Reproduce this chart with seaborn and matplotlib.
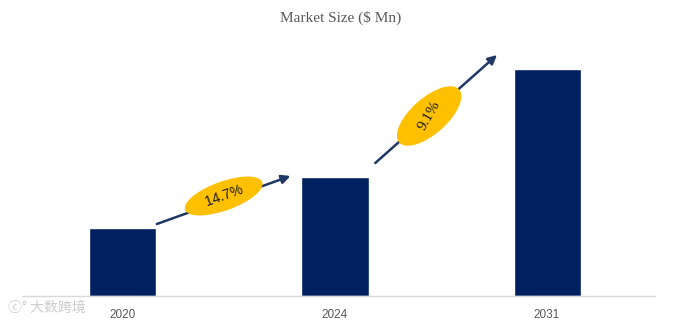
import matplotlib
matplotlib.use("Agg")
import matplotlib.pyplot as plt
import seaborn as sns
import numpy as np
from matplotlib.patches import Ellipse
from matplotlib.transforms import IdentityTransform

years = ["2020", "2024", "2031"]
market_size = [68, 119, 227]
cagr_labels = ["14.7%", "9.1%"]

sns.set_theme(style="white")
plt.rcParams['font.family'] = ['DejaVu Sans', 'Noto Sans CJK SC']

W, H = 681, 322
fig = plt.figure(figsize=(W / 100, H / 100), dpi=100)
ax = fig.add_axes([22 / W, 26 / H, (655 - 22) / W, 256 / H])

sns.barplot(x=years, y=market_size, color="#002060", saturation=1,
            width=0.316, ax=ax)
ax.set_xlim(-0.476, 2.509)
ax.set_ylim(0, 256)
ax.set_xlabel("")
ax.set_ylabel("")
ax.set_yticks([])
for s in ["left", "right", "top"]:
    ax.spines[s].set_visible(False)
ax.spines["bottom"].set_color("#d9d9d9")
ax.spines["bottom"].set_linewidth(1.0)
ax.tick_params(axis="x", length=0, pad=9)
for lbl in ax.get_xticklabels():
    lbl.set_fontfamily("Liberation Sans")
    lbl.set_fontsize(8.5)
    lbl.set_color("#595959")

fig.text(0.5, 1 - 18 / H, "Market Size ($ Mn)", ha="center", va="center",
         fontsize=11, color="#595959", family="Liberation Serif")

# growth arrows (data coords)
arrows = [((0.16, 72), (0.79, 120)), ((1.19, 133), (1.764, 241))]
ell_offsets = [(0, 4), (-7, -7)]
ell_sizes = [(82, 29), (80, 36)]
txt_specs = [dict(family="Liberation Sans", size=10, rot=None),
             dict(family="Liberation Serif", size=11, rot=60)]
arrow_color = "#1F3864"
fig.canvas.draw()
for (p0, p1), lab, (L, Wd), off, ts in zip(arrows, cagr_labels, ell_sizes,
                                            ell_offsets, txt_specs):
    ax.annotate("", xy=p1, xytext=p0,
                arrowprops=dict(arrowstyle="-|>", color=arrow_color, lw=1.8,
                                mutation_scale=13, shrinkA=0, shrinkB=0),
                annotation_clip=False)
    d0 = ax.transData.transform(p0)
    d1 = ax.transData.transform(p1)
    ang = np.degrees(np.arctan2(d1[1] - d0[1], d1[0] - d0[0]))
    c = (d0 + d1) / 2 + np.array(off)
    e = Ellipse(c, L, Wd, angle=ang, facecolor="#FFC000", edgecolor="none",
                transform=IdentityTransform(), zorder=5)
    fig.add_artist(e)
    rot = ang if ts["rot"] is None else ts["rot"]
    fig.text(c[0] / W, c[1] / H, lab, ha="center", va="center",
             rotation=rot, rotation_mode="anchor", fontsize=ts["size"],
             family=ts["family"], color="#1a1a1a", zorder=6)

# watermark
fig.text(8 / W, 1 - 308 / H, "\u24d2\u00b0 大数跨境", ha="left", va="center",
         fontsize=10, color="#bfbfbf", alpha=0.8,
         family=["Noto Sans CJK SC", "DejaVu Sans"])

fig.savefig("out.png", dpi=100)
